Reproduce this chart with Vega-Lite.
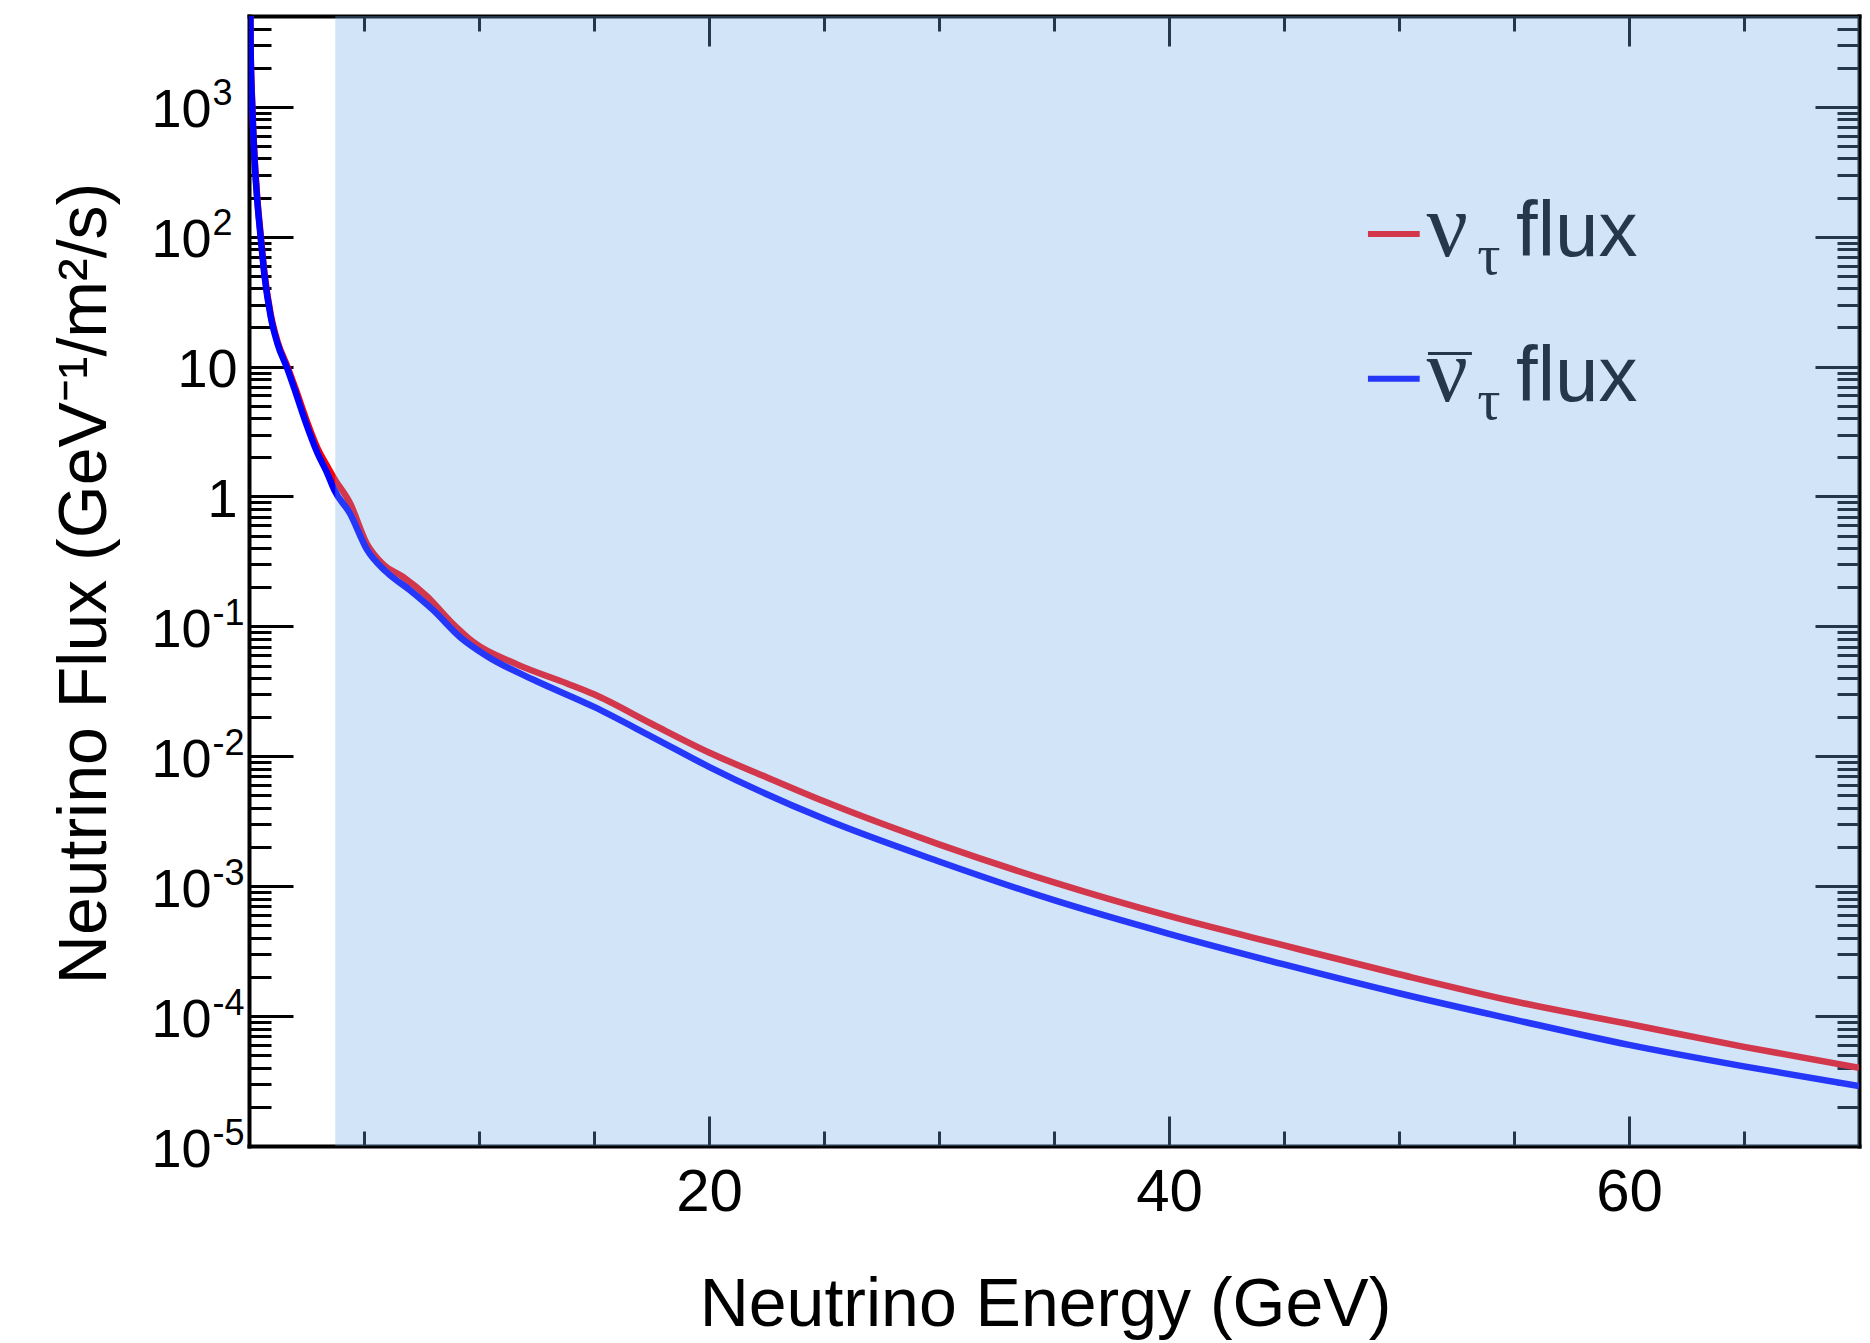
{
  "$schema": "https://vega.github.io/schema/vega-lite/v6.json",
  "width": 1610,
  "height": 1130,
  "autosize": {"type": "none"},
  "padding": {"left": 249, "top": 16, "right": 11, "bottom": 197},
  "background": "white",
  "config": {
    "view": {"stroke": null},
    "font": "Liberation Sans",
    "axis": {
      "grid": false,
      "domainColor": "black",
      "domainWidth": 4,
      "domainCap": "square",
      "tickColor": "black",
      "tickWidth": 3,
      "labelFont": "Liberation Sans",
      "labelColor": "black",
      "labelFontSize": 54,
      "labelOverlap": false,
      "labelBound": false,
      "labelFlush": false,
      "titleFont": "Liberation Sans",
      "titleFontWeight": "normal",
      "titleColor": "black",
      "titleFontSize": 68
    }
  },
  "datasets": {
    "flux": [
      {"energy": 0.06, "flux": 5000, "series": "nu"},
      {"energy": 0.07, "flux": 2900, "series": "nu"},
      {"energy": 0.145, "flux": 1000, "series": "nu"},
      {"energy": 0.25, "flux": 390, "series": "nu"},
      {"energy": 0.36, "flux": 198, "series": "nu"},
      {"energy": 0.51, "flux": 102, "series": "nu"},
      {"energy": 0.68, "flux": 51, "series": "nu"},
      {"energy": 0.94, "flux": 25.5, "series": "nu"},
      {"energy": 1.23, "flux": 15.8, "series": "nu"},
      {"energy": 1.67, "flux": 10.0, "series": "nu"},
      {"energy": 2.03, "flux": 6.7, "series": "nu"},
      {"energy": 2.47, "flux": 4.0, "series": "nu"},
      {"energy": 2.98, "flux": 2.35, "series": "nu"},
      {"energy": 3.41, "flux": 1.7, "series": "nu"},
      {"energy": 3.7, "flux": 1.38, "series": "nu"},
      {"energy": 4.39, "flux": 0.89, "series": "nu"},
      {"energy": 5.13, "flux": 0.43, "series": "nu"},
      {"energy": 5.83, "flux": 0.3, "series": "nu"},
      {"energy": 6.7, "flux": 0.24, "series": "nu"},
      {"energy": 7.74, "flux": 0.17, "series": "nu"},
      {"energy": 8.74, "flux": 0.11, "series": "nu"},
      {"energy": 9.74, "flux": 0.076, "series": "nu"},
      {"energy": 11.65, "flux": 0.051, "series": "nu"},
      {"energy": 13.8, "flux": 0.0365, "series": "nu"},
      {"energy": 15, "flux": 0.03, "series": "nu"},
      {"energy": 17.5, "flux": 0.0178, "series": "nu"},
      {"energy": 20, "flux": 0.0107, "series": "nu"},
      {"energy": 22.5, "flux": 0.0069, "series": "nu"},
      {"energy": 25, "flux": 0.0045, "series": "nu"},
      {"energy": 30, "flux": 0.0021, "series": "nu"},
      {"energy": 35, "flux": 0.00107, "series": "nu"},
      {"energy": 40, "flux": 0.00059, "series": "nu"},
      {"energy": 45, "flux": 0.00035, "series": "nu"},
      {"energy": 50, "flux": 0.00021, "series": "nu"},
      {"energy": 55, "flux": 0.00013, "series": "nu"},
      {"energy": 60, "flux": 0.000087, "series": "nu"},
      {"energy": 65, "flux": 0.000058, "series": "nu"},
      {"energy": 70, "flux": 0.00004, "series": "nu"},
      {"energy": 0.06, "flux": 5000, "series": "nubar"},
      {"energy": 0.07, "flux": 2800, "series": "nubar"},
      {"energy": 0.145, "flux": 950, "series": "nubar"},
      {"energy": 0.25, "flux": 370, "series": "nubar"},
      {"energy": 0.36, "flux": 190, "series": "nubar"},
      {"energy": 0.51, "flux": 98, "series": "nubar"},
      {"energy": 0.68, "flux": 49, "series": "nubar"},
      {"energy": 0.94, "flux": 24.5, "series": "nubar"},
      {"energy": 1.23, "flux": 15.2, "series": "nubar"},
      {"energy": 1.67, "flux": 9.6, "series": "nubar"},
      {"energy": 2.03, "flux": 6.3, "series": "nubar"},
      {"energy": 2.47, "flux": 3.7, "series": "nubar"},
      {"energy": 2.98, "flux": 2.15, "series": "nubar"},
      {"energy": 3.41, "flux": 1.5, "series": "nubar"},
      {"energy": 3.7, "flux": 1.13, "series": "nubar"},
      {"energy": 4.39, "flux": 0.74, "series": "nubar"},
      {"energy": 5.13, "flux": 0.39, "series": "nubar"},
      {"energy": 6.0, "flux": 0.26, "series": "nubar"},
      {"energy": 7.0, "flux": 0.19, "series": "nubar"},
      {"energy": 8.0, "flux": 0.134, "series": "nubar"},
      {"energy": 9.17, "flux": 0.083, "series": "nubar"},
      {"energy": 10.35, "flux": 0.059, "series": "nubar"},
      {"energy": 12.35, "flux": 0.039, "series": "nubar"},
      {"energy": 15, "flux": 0.024, "series": "nubar"},
      {"energy": 17.5, "flux": 0.0142, "series": "nubar"},
      {"energy": 20, "flux": 0.0083, "series": "nubar"},
      {"energy": 25, "flux": 0.0033, "series": "nubar"},
      {"energy": 30, "flux": 0.00155, "series": "nubar"},
      {"energy": 35, "flux": 0.00078, "series": "nubar"},
      {"energy": 40, "flux": 0.00043, "series": "nubar"},
      {"energy": 45, "flux": 0.00025, "series": "nubar"},
      {"energy": 50, "flux": 0.00015, "series": "nubar"},
      {"energy": 55, "flux": 0.000094, "series": "nubar"},
      {"energy": 60, "flux": 0.00006, "series": "nubar"},
      {"energy": 65, "flux": 0.000041, "series": "nubar"},
      {"energy": 70, "flux": 0.000029, "series": "nubar"}
    ],
    "one": [{"item": "overlay"}]
  },
  "resolve": {"axis": {"x": "independent", "y": "independent"}},
  "layer": [
    {
      "data": {"name": "flux"},
      "mark": {"type": "line", "strokeWidth": 6.5, "clip": true, "interpolate": "monotone"},
      "encoding": {
        "x": {
          "field": "energy", "type": "quantitative",
          "scale": {"domain": [0, 70], "nice": false, "zero": false},
          "axis": {
            "orient": "bottom",
            "values": [5, 10, 15, 20, 25, 30, 35, 40, 45, 50, 55, 60, 65],
            "tickSize": {"condition": {"test": "datum.value % 20 == 0", "value": -30}, "value": -15},
            "labelExpr": "datum.value % 20 == 0 ? datum.label : ''",
            "labelPadding": 47,
            "labelFontSize": 60,
            "title": "Neutrino Energy (GeV)",
            "titleX": 796, "titleY": 179, "titleAlign": "center", "titleBaseline": "alphabetic", "titleAnchor": null
          }
        },
        "y": {
          "field": "flux", "type": "quantitative",
          "scale": {"type": "log", "domain": [0.00001, 5000], "nice": false},
          "axis": {
            "orient": "left",
            "values": [0.00001, 0.00002, 0.00003, 0.00004, 0.00005, 0.00006, 0.00007, 0.00008, 0.00009,
                       0.0001, 0.0002, 0.0003, 0.0004, 0.0005, 0.0006, 0.0007, 0.0008, 0.0009,
                       0.001, 0.002, 0.003, 0.004, 0.005, 0.006, 0.007, 0.008, 0.009,
                       0.01, 0.02, 0.03, 0.04, 0.05, 0.06, 0.07, 0.08, 0.09,
                       0.1, 0.2, 0.3, 0.4, 0.5, 0.6, 0.7, 0.8, 0.9,
                       1, 2, 3, 4, 5, 6, 7, 8, 9,
                       10, 20, 30, 40, 50, 60, 70, 80, 90,
                       100, 200, 300, 400, 500, 600, 700, 800, 900,
                       1000, 2000, 3000, 4000],
            "tickSize": {"condition": {"test": "indexof([1000, 100, 10, 1, 0.1, 0.01, 0.001, 0.0001, 0.00001], datum.value) >= 0", "value": -44}, "value": -22},
            "labelExpr": "datum.value == 1 ? '1' : indexof([1000, 100, 10, 0.1, 0.01, 0.001, 0.0001, 0.00001], datum.value) >= 0 ? '10' : ''",
            "labelPadding": {"condition": {"test": "datum.value == 1 || datum.value == 10", "value": 56}, "value": 82},
            "labelOffset": 4,
            "labelAlign": "right",
            "labelBaseline": "middle",
            "title": "Neutrino Flux (GeV⁻¹/m²/s)",
            "titleX": -144, "titleY": 567, "titleAngle": -90, "titleAlign": "center", "titleBaseline": "alphabetic", "titleAnchor": null
          }
        },
        "color": {
          "field": "series", "type": "nominal",
          "scale": {"domain": ["nu", "nubar"], "range": ["#ff0000", "#0000ff"]},
          "legend": null
        }
      }
    },
    {
      "data": {"name": "one"},
      "mark": {"type": "rule", "strokeWidth": 6, "color": "#ff0000"},
      "encoding": {
        "x": {"datum": 48.65, "type": "quantitative", "axis": null},
        "x2": {"datum": 50.9},
        "y": {
          "datum": 105, "type": "quantitative",
          "axis": {
            "orient": "left",
            "values": [1000, 100, 0.1, 0.01, 0.001, 0.0001, 0.00001],
            "ticks": false,
            "tickSize": 0,
            "domain": false,
            "labelExpr": "datum.value == 1000 ? '3' : datum.value == 100 ? '2' : datum.value == 0.1 ? '-1' : datum.value == 0.01 ? '-2' : datum.value == 0.001 ? '-3' : datum.value == 0.0001 ? '-4' : '-5'",
            "labelFontSize": 36,
            "labelAlign": "left",
            "labelBaseline": "middle",
            "labelPadding": 37,
            "labelOffset": -13,
            "title": null
          }
        }
      }
    },
    {
      "data": {"name": "one"},
      "mark": {"type": "rule", "strokeWidth": 6, "color": "#0000ff"},
      "encoding": {
        "x": {"datum": 48.65, "type": "quantitative", "axis": null},
        "x2": {"datum": 50.9},
        "y": {"datum": 8.07, "type": "quantitative", "axis": null}
      }
    },
    {
      "data": {"name": "one"},
      "mark": {"type": "text", "text": "ν", "font": "Liberation Serif", "fontSize": 92, "align": "left", "baseline": "alphabetic", "color": "black"},
      "encoding": {
        "x": {"datum": 51.2, "type": "quantitative", "axis": null},
        "y": {"datum": 71.3, "type": "quantitative", "axis": null}
      }
    },
    {
      "data": {"name": "one"},
      "mark": {"type": "text", "text": "τ", "font": "Liberation Serif", "fontSize": 58, "align": "left", "baseline": "alphabetic", "color": "black"},
      "encoding": {
        "x": {"datum": 53.4, "type": "quantitative", "axis": null},
        "y": {"datum": 51.8, "type": "quantitative", "axis": null}
      }
    },
    {
      "data": {"name": "one"},
      "mark": {"type": "text", "text": "flux", "font": "Liberation Sans", "fontSize": 78, "align": "left", "baseline": "alphabetic", "color": "black"},
      "encoding": {
        "x": {"datum": 55.09, "type": "quantitative", "axis": null},
        "y": {"datum": 71.3, "type": "quantitative", "axis": null}
      }
    },
    {
      "data": {"name": "one"},
      "mark": {"type": "rule", "strokeWidth": 3, "color": "black"},
      "encoding": {
        "x": {"datum": 51.26, "type": "quantitative", "axis": null},
        "x2": {"datum": 53.17},
        "y": {"datum": 12.6, "type": "quantitative", "axis": null}
      }
    },
    {
      "data": {"name": "one"},
      "mark": {"type": "text", "text": "ν", "font": "Liberation Serif", "fontSize": 92, "align": "left", "baseline": "alphabetic", "color": "black"},
      "encoding": {
        "x": {"datum": 51.2, "type": "quantitative", "axis": null},
        "y": {"datum": 5.46, "type": "quantitative", "axis": null}
      }
    },
    {
      "data": {"name": "one"},
      "mark": {"type": "text", "text": "τ", "font": "Liberation Serif", "fontSize": 58, "align": "left", "baseline": "alphabetic", "color": "black"},
      "encoding": {
        "x": {"datum": 53.4, "type": "quantitative", "axis": null},
        "y": {"datum": 3.97, "type": "quantitative", "axis": null}
      }
    },
    {
      "data": {"name": "one"},
      "mark": {"type": "text", "text": "flux", "font": "Liberation Sans", "fontSize": 78, "align": "left", "baseline": "alphabetic", "color": "black"},
      "encoding": {
        "x": {"datum": 55.09, "type": "quantitative", "axis": null},
        "y": {"datum": 5.46, "type": "quantitative", "axis": null}
      }
    },
    {
      "data": {"name": "one"},
      "mark": {"type": "rect", "fill": "#74acea", "fillOpacity": 0.32, "strokeWidth": 0},
      "encoding": {
        "x": {
          "datum": 3.75, "type": "quantitative",
          "axis": {
            "orient": "top",
            "values": [5, 10, 15, 20, 25, 30, 35, 40, 45, 50, 55, 60, 65],
            "tickSize": {"condition": {"test": "datum.value % 20 == 0", "value": -30}, "value": -15},
            "labels": false,
            "title": null
          }
        },
        "x2": {"datum": 70},
        "y": {
          "datum": 0.00001, "type": "quantitative",
          "axis": {
            "orient": "right",
            "values": [0.00001, 0.00002, 0.00003, 0.00004, 0.00005, 0.00006, 0.00007, 0.00008, 0.00009,
                       0.0001, 0.0002, 0.0003, 0.0004, 0.0005, 0.0006, 0.0007, 0.0008, 0.0009,
                       0.001, 0.002, 0.003, 0.004, 0.005, 0.006, 0.007, 0.008, 0.009,
                       0.01, 0.02, 0.03, 0.04, 0.05, 0.06, 0.07, 0.08, 0.09,
                       0.1, 0.2, 0.3, 0.4, 0.5, 0.6, 0.7, 0.8, 0.9,
                       1, 2, 3, 4, 5, 6, 7, 8, 9,
                       10, 20, 30, 40, 50, 60, 70, 80, 90,
                       100, 200, 300, 400, 500, 600, 700, 800, 900,
                       1000, 2000, 3000, 4000],
            "tickSize": {"condition": {"test": "indexof([1000, 100, 10, 1, 0.1, 0.01, 0.001, 0.0001, 0.00001], datum.value) >= 0", "value": -44}, "value": -22},
            "labels": false,
            "title": null
          }
        },
        "y2": {"datum": 5000}
      }
    }
  ]
}
